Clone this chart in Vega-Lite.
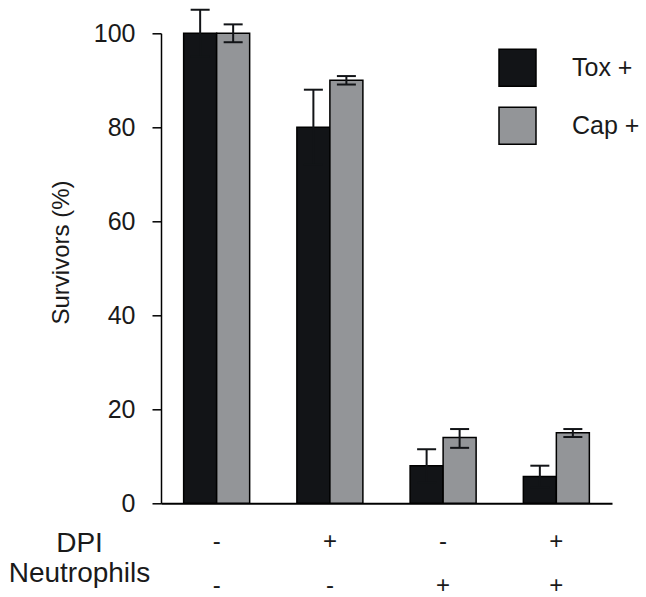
{
  "$schema": "https://vega.github.io/schema/vega-lite/v6.json",
  "width": 451,
  "height": 470,
  "autosize": {"type": "none"},
  "padding": {"left": 161, "top": 33.3, "right": 34, "bottom": 93.7},
  "background": "white",
  "config": {
    "font": "Liberation Sans",
    "view": {"stroke": null},
    "axisY": {
      "domainColor": "#000000", "domainWidth": 1.5,
      "tickColor": "#000000", "tickWidth": 1.5, "tickSize": 9,
      "labelFontSize": 25, "labelColor": "#1a1a1a", "labelPadding": 17,
      "grid": false
    },
    "axisX": {
      "domainColor": "#000000", "domainWidth": 2,
      "ticks": false, "tickSize": 0,
      "labelFontSize": 24, "labelColor": "#1a1a1a", "labelPadding": 26, "labelAngle": 0,
      "labelLineHeight": 44,
      "grid": false
    },
    "legend": {
      "orient": "none", "legendX": 337, "legendY": 15,
      "symbolType": "square", "symbolSize": 1369,
      "symbolStrokeColor": "#000000", "symbolStrokeWidth": 1.5, "symbolOpacity": 1,
      "labelFontSize": 25, "labelColor": "#1a1a1a", "labelOffset": 35,
      "rowPadding": 15, "padding": 0
    }
  },
  "data": {
    "values": [
      {"treatment": "- -", "series": "Tox +", "value": 100, "lo": 95, "hi": 105},
      {"treatment": "- -", "series": "Cap +", "value": 100, "lo": 98.1, "hi": 101.9},
      {"treatment": "+ -", "series": "Tox +", "value": 80, "lo": 72, "hi": 88},
      {"treatment": "+ -", "series": "Cap +", "value": 90, "lo": 89.1, "hi": 90.9},
      {"treatment": "- +", "series": "Tox +", "value": 8, "lo": 4.5, "hi": 11.5},
      {"treatment": "- +", "series": "Cap +", "value": 14, "lo": 11.8, "hi": 15.8},
      {"treatment": "+ +", "series": "Tox +", "value": 5.7, "lo": 3.4, "hi": 8},
      {"treatment": "+ +", "series": "Cap +", "value": 15, "lo": 14.1, "hi": 15.8}
    ]
  },
  "encoding": {
    "x": {
      "field": "treatment", "type": "nominal", "sort": null,
      "scale": {"paddingInner": 0.417, "paddingOuter": 0.2},
      "axis": {
        "title": ["DPI", "Neutrophils"],
        "labelExpr": "split(datum.label, ' ')",
        "titleFontSize": 28, "titleFontWeight": "normal", "titleColor": "#1a1a1a",
        "titleLineHeight": 30,
        "titleX": -82, "titleY": 48.4, "titleAlign": "center", "titleBaseline": "alphabetic"
      }
    },
    "xOffset": {
      "field": "series", "type": "nominal", "sort": ["Tox +", "Cap +"],
      "scale": {"paddingInner": 0, "paddingOuter": 0}
    }
  },
  "layer": [
    {
      "mark": {"type": "bar", "stroke": "#000000", "strokeWidth": 1.5},
      "encoding": {
        "y": {
          "field": "value", "type": "quantitative",
          "scale": {"domain": [0, 100], "nice": false},
          "axis": {
            "title": "Survivors (%)", "values": [0, 20, 40, 60, 80, 100],
            "titleFontSize": 24, "titleFontWeight": "normal", "titleColor": "#1a1a1a",
            "titleLimit": 1000,
            "titleX": -93, "titleY": 218.7, "titleAlign": "center", "titleBaseline": "alphabetic"
          }
        },
        "color": {
          "field": "series", "type": "nominal",
          "scale": {"domain": ["Tox +", "Cap +"], "range": ["#121417", "#939598"]},
          "legend": {"title": null}
        }
      }
    },
    {
      "mark": {"type": "rule", "color": "#121417", "strokeWidth": 2},
      "encoding": {
        "y": {"field": "lo", "type": "quantitative", "title": "Survivors (%)"},
        "y2": {"field": "hi"}
      }
    },
    {
      "mark": {"type": "tick", "color": "#121417", "size": 19, "thickness": 2, "opacity": 1},
      "encoding": {
        "y": {"field": "hi", "type": "quantitative", "title": "Survivors (%)"}
      }
    },
    {
      "mark": {"type": "tick", "color": "#121417", "size": 19, "thickness": 2, "opacity": 1},
      "encoding": {
        "y": {"field": "lo", "type": "quantitative", "title": "Survivors (%)"}
      }
    }
  ]
}
